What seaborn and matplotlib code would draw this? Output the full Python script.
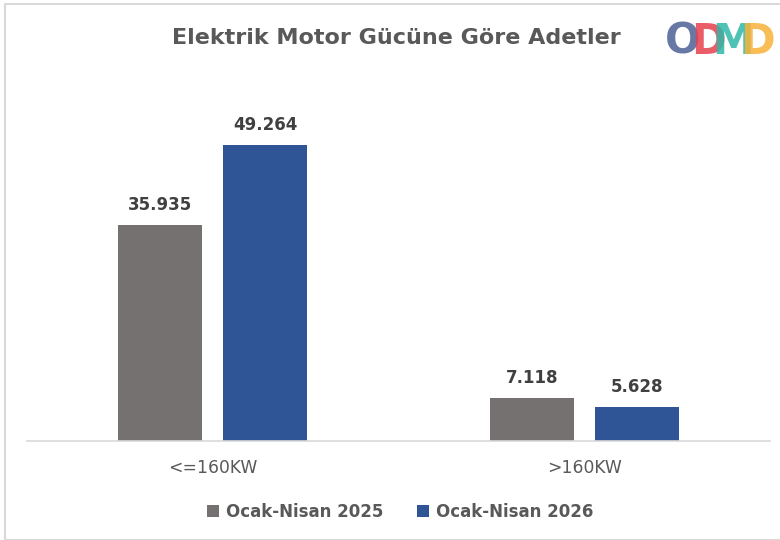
import pandas as pd
import matplotlib.pyplot as plt
import seaborn as sns
from matplotlib.patches import Rectangle, Patch

categories = ['<=160KW', '>160KW']
series = ['Ocak-Nisan 2025', 'Ocak-Nisan 2026']
values_2025 = [35935, 7118]
values_2026 = [49264, 5628]
colors = ['#767171', '#2F5597']

df = pd.DataFrame({
    'kategori': categories * 2,
    'donem': [series[0]] * 2 + [series[1]] * 2,
    'adet': values_2025 + values_2026,
})

sns.set_theme(style='white')
plt.rcParams['font.family'] = ['DejaVu Sans']

fig = plt.figure(figsize=(7.8, 5.4), dpi=100)
ax = fig.add_axes([27 / 780, 99 / 540, 743 / 780, 330.5 / 540])

sns.barplot(data=df, x='kategori', y='adet', hue='donem', palette=colors,
            width=0.565, gap=0.2, ax=ax, legend=False, saturation=1, linewidth=0)

def fmt(v):
    return f'{int(v):,}'.replace(',', '.')

for cont in ax.containers:
    ax.bar_label(cont, labels=[fmt(b.get_height()) for b in cont], padding=8,
                 fontsize=12, fontweight='bold', color='#404040')

ax.set_ylim(0, 55000)
ax.set_xlim(-0.5, 1.5)
ax.set_xlabel('')
ax.set_ylabel('')
ax.set_yticks([])
ax.tick_params(axis='x', length=0, pad=13, labelsize=12.3, labelcolor='#595959')
for s in ['top', 'right', 'left']:
    ax.spines[s].set_visible(False)
ax.spines['bottom'].set_color('#D9D9D9')
ax.spines['bottom'].set_linewidth(1.2)

fig.text(396 / 780, 1 - 38 / 540, 'Elektrik Motor Gücüne Göre Adetler', ha='center', va='center',
         fontsize=16, fontweight='bold', color='#595959')

# logo
logo = [('O', '#4E6196', 683), ('D', '#E5404E', 708), ('M', '#2FB8A8', 733), ('D', '#F8B23A', 757)]
for ch, c, x in logo:
    fig.text(x / 780, 1 - 42 / 540, ch, ha='center', va='center', fontsize=30,
             fontweight='heavy', color=c, alpha=0.85, family=['Liberation Sans Narrow', 'DejaVu Sans'])

handles = [Patch(facecolor=c, edgecolor='none') for c in colors]
fig.legend(handles, series, loc='center', bbox_to_anchor=(400 / 780, 1 - 512 / 540), ncol=2,
           frameon=False, handlelength=0.75, handleheight=0.75, handletextpad=0.4,
           columnspacing=2.0, prop={'size': 12, 'weight': 'bold'}, labelcolor='#595959')

fig.patches.append(Rectangle((5 / 780, 0), 1, 1 - 4 / 540, transform=fig.transFigure,
                             fill=False, edgecolor='#D9D9D9', linewidth=1.5))

fig.savefig('out.png', dpi=100, facecolor='white')
